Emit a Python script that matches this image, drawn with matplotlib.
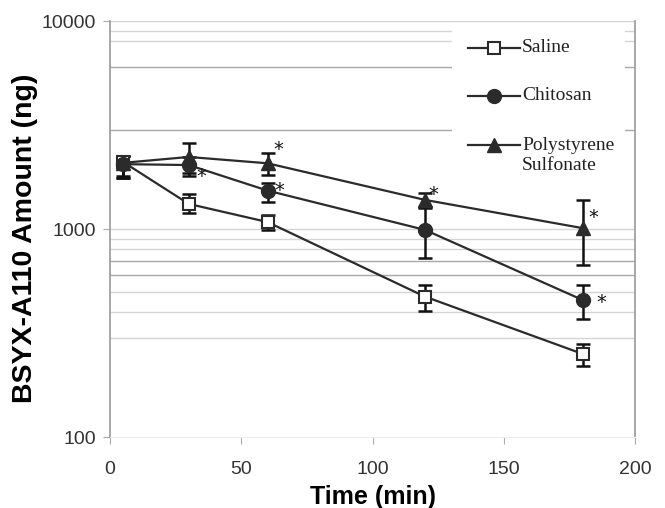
import numpy as np
import matplotlib
matplotlib.use("Agg")
import matplotlib.pyplot as plt
from matplotlib.patches import Rectangle
from matplotlib.lines import Line2D

# Data

time_min = [5, 30, 60, 120, 180]

saline = [2100, 1320, 1080, 473, 251]
saline_lo = [1800, 1190, 990, 404, 219]
saline_hi = [2250, 1470, 1170, 538, 280]

chitosan = [2050, 2030, 1530, 990, 456]
chitosan_lo = [1750, 1800, 1350, 725, 369]
chitosan_hi = [2250, 2220, 1660, 1255, 538]

pss = [2080, 2220, 2070, 1380, 1010]
pss_lo = [1760, 1850, 1820, 1270, 671]
pss_hi = [2250, 2590, 2320, 1490, 1380]

series_names = ["Saline", "Chitosan", "Polystyrene", "Sulfonate"]

# significance marks: (series index, time index, offset in px)
stars = [(1, 1, (13, 7)), (2, 2, (11, -18)), (1, 2, (12, -4)),
         (2, 3, (8, -10)), (2, 4, (11, -15)), (1, 4, (19, -2))]

grid_dark = [6000, 3000, 700, 600]
grid_light = [10000, 9000, 8000, 1000, 900, 800, 500, 400, 300]

x_ticks = [0, 50, 100, 150, 200]
y_ticks = [100, 1000, 10000]


DPI = 100
PX = 72 / DPI  # points per pixel
INK = "#2b2b2b"
AX_L, AX_T, AX_W, AX_H = 110, 21, 525, 416


def ax_frac(px, py):
    # figure pixel -> axes fraction
    return (px - AX_L) / AX_W, (AX_T + AX_H - py) / AX_H


fig = plt.figure(figsize=(6.65, 5.08), dpi=DPI)
ax = fig.add_axes([AX_L / 665, 1 - (AX_T + AX_H) / 508, AX_W / 665, AX_H / 508])

ax.set_yscale("log")
ax.set_xlim(0, 200)
ax.set_ylim(100, 10000)

for v in grid_light:
    ax.axhline(v, color="#d4d4d4", lw=1.0, zorder=0)
for v in grid_dark:
    ax.axhline(v, color="#a8a8a8", lw=1.0, zorder=0)

styles = [
    dict(marker="s", mfc="white", mec=INK, ms=9, mew=1.5),
    dict(marker="o", mfc=INK, mec=INK, ms=10),
    dict(marker="^", mfc=INK, mec=INK, ms=10),
]
vals = [saline, chitosan, pss]
los = [saline_lo, chitosan_lo, pss_lo]
his = [saline_hi, chitosan_hi, pss_hi]

for i in range(3):
    y = np.array(vals[i])
    yerr = np.vstack([y - np.array(los[i]), np.array(his[i]) - y])
    ax.errorbar(time_min, y, yerr=yerr, fmt="none", ecolor="#111111",
                elinewidth=1.8, capsize=5, capthick=1.8, zorder=3)
    ax.plot(time_min, y, color=INK, lw=1.6, zorder=4, **styles[i])

for si, ti, (dx, dy) in stars:
    ax.annotate("*", xy=(time_min[ti], vals[si][ti]),
                xytext=(dx * PX, -dy * PX - 3), textcoords="offset points",
                ha="center", va="center", fontsize=14, color="#111111",
                zorder=6)

# legend drawn by hand so the marker sits on the first line of a two-line label
x0, y0 = ax_frac(452, 185)
x1, y1 = ax_frac(625, 25)
ax.add_patch(Rectangle((x0, y0), x1 - x0, y1 - y0, transform=ax.transAxes,
                       facecolor="white", edgecolor="none", zorder=5))
row_y = [48, 96, 145]
for i in range(3):
    hx0, hy = ax_frac(468, row_y[i])
    hx1, _ = ax_frac(520, row_y[i])
    ax.add_line(Line2D([hx0, hx1], [hy, hy], color=INK, lw=1.6,
                       transform=ax.transAxes, zorder=6, clip_on=False))
    ax.add_line(Line2D([(hx0 + hx1) / 2], [hy], color=INK, lw=0,
                       transform=ax.transAxes, zorder=7, clip_on=False,
                       **styles[i]))
for name, py in zip(series_names, row_y + [166]):
    tx, ty = ax_frac(522, py)
    ax.text(tx, ty, name, transform=ax.transAxes, ha="left", va="center",
            family="Liberation Serif", fontsize=14, color="#222222", zorder=7)

for side in ["left", "right"]:
    ax.spines[side].set_color("#9a9a9a")
    ax.spines[side].set_linewidth(1.2)
ax.spines["top"].set_visible(False)
ax.spines["bottom"].set_color("#eeeeee")

ax.set_xticks(x_ticks)
ax.set_yticks(y_ticks)
ax.set_yticklabels([str(t) for t in y_ticks])
ax.yaxis.set_minor_locator(matplotlib.ticker.NullLocator())
ax.tick_params(axis="both", labelsize=14, labelcolor="#333333",
               color="#aaaaaa", length=5)
ax.tick_params(axis="x", pad=12)
ax.tick_params(axis="y", pad=5)
for lab in ax.get_xticklabels() + ax.get_yticklabels():
    lab.set_family("Liberation Sans")

ax.set_xlabel("Time (min)", fontsize=18, fontweight="bold",
              family="Liberation Sans", labelpad=5)
fig.text(25 / 665, 1 - 238 / 508, "BSYX-A110 Amount (ng)", rotation=90,
         ha="center", va="center", fontsize=20.5, fontweight="bold",
         family="Liberation Sans")

fig.savefig("out.png", dpi=DPI)
